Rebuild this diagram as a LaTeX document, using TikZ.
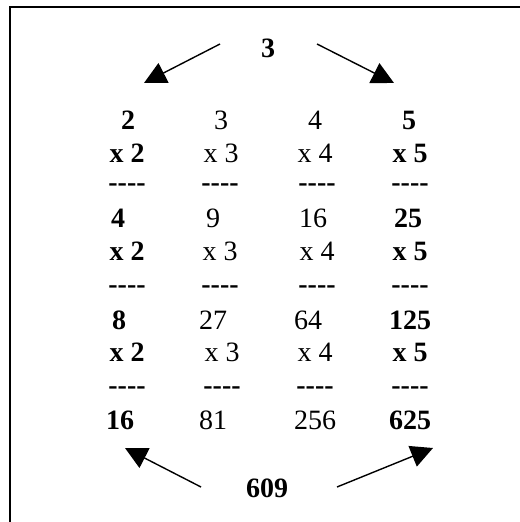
\documentclass[tikz,border=0pt]{standalone}
\usepackage{fontspec}
\setmainfont{Liberation Serif}[Ligatures=TeXOff]
\usetikzlibrary{arrows.meta}
\tikzset{
  num/.style={inner sep=0pt, anchor=base, font=\fontsize{28bp}{33bp}\selectfont},
  bnum/.style={num, font=\fontsize{28bp}{33bp}\selectfont\bfseries},
  arr/.style={line width=1.4bp, -{Triangle[length=22bp,width=22bp]}},
  frame/.style={line width=2bp}
}
\begin{document}
\begin{tikzpicture}[x=1bp,y=-1bp]
\useasboundingbox (0,0) rectangle (520,522);
\draw[frame] (10,522) -- (10,7) -- (520,7);
% top and bottom
\node[bnum] (top) at (268,57.5) {3};
\node[bnum] (bot) at (267,497.5) {609};
% column 1 (bold)
\node[bnum] (a1) at (128,129.5) {2};
\node[bnum] (a2) at (127,162.5) {x 2};
\node[bnum] (a3) at (127,191.3) {----};
\node[bnum] (a4) at (118,227.5) {4};
\node[bnum] (a5) at (127,260.5) {x 2};
\node[bnum] (a6) at (127,293.3) {----};
\node[bnum] (a7) at (119,329.5) {8};
\node[bnum] (a8) at (127,361.5) {x 2};
\node[bnum] (a9) at (127,394.3) {----};
\node[bnum] (a10) at (120,429.5) {16};
% column 2
\node[num] (b1) at (221,129.5) {3};
\node[num] (b2) at (221,162.5) {x 3};
\node[bnum] (b3) at (220,191.3) {----};
\node[num] (b4) at (213,227.5) {9};
\node[num] (b5) at (220,260.5) {x 3};
\node[bnum] (b6) at (220,293.3) {----};
\node[num] (b7) at (213,329.5) {27};
\node[num] (b8) at (222,361.5) {x 3};
\node[bnum] (b9) at (222,394.3) {----};
\node[num] (b10) at (213,429.5) {81};
% column 3
\node[num] (c1) at (315,129.5) {4};
\node[num] (c2) at (315,162.5) {x 4};
\node[bnum] (c3) at (317,191.3) {----};
\node[num] (c4) at (313,227.5) {16};
\node[num] (c5) at (317,260.5) {x 4};
\node[bnum] (c6) at (317,293.3) {----};
\node[num] (c7) at (308,329.5) {64};
\node[num] (c8) at (315,361.5) {x 4};
\node[bnum] (c9) at (315,394.3) {----};
\node[num] (c10) at (315,429.5) {256};
% column 4 (bold)
\node[bnum] (d1) at (409,129.5) {5};
\node[bnum] (d2) at (410,162.5) {x 5};
\node[bnum] (d3) at (410,191.3) {----};
\node[bnum] (d4) at (408,227.5) {25};
\node[bnum] (d5) at (410,260.5) {x 5};
\node[bnum] (d6) at (410,293.3) {----};
\node[bnum] (d7) at (410,329.5) {125};
\node[bnum] (d8) at (410,361.5) {x 5};
\node[bnum] (d9) at (410,394.3) {----};
\node[bnum] (d10) at (410,429.5) {625};
% arrow ends
\coordinate (tlS) at (220,44);
\coordinate (tlE) at (144,83);
\coordinate (trS) at (317,44);
\coordinate (trE) at (394,83);
\coordinate (blS) at (201,487);
\coordinate (blE) at (125,448);
\coordinate (brS) at (337,487);
\coordinate (brE) at (433,448);
\draw[arr] (tlS) -- (tlE);
\draw[arr] (trS) -- (trE);
\draw[arr] (blS) -- (blE);
\draw[arr] (brS) -- (brE);
\end{tikzpicture}
\end{document}
